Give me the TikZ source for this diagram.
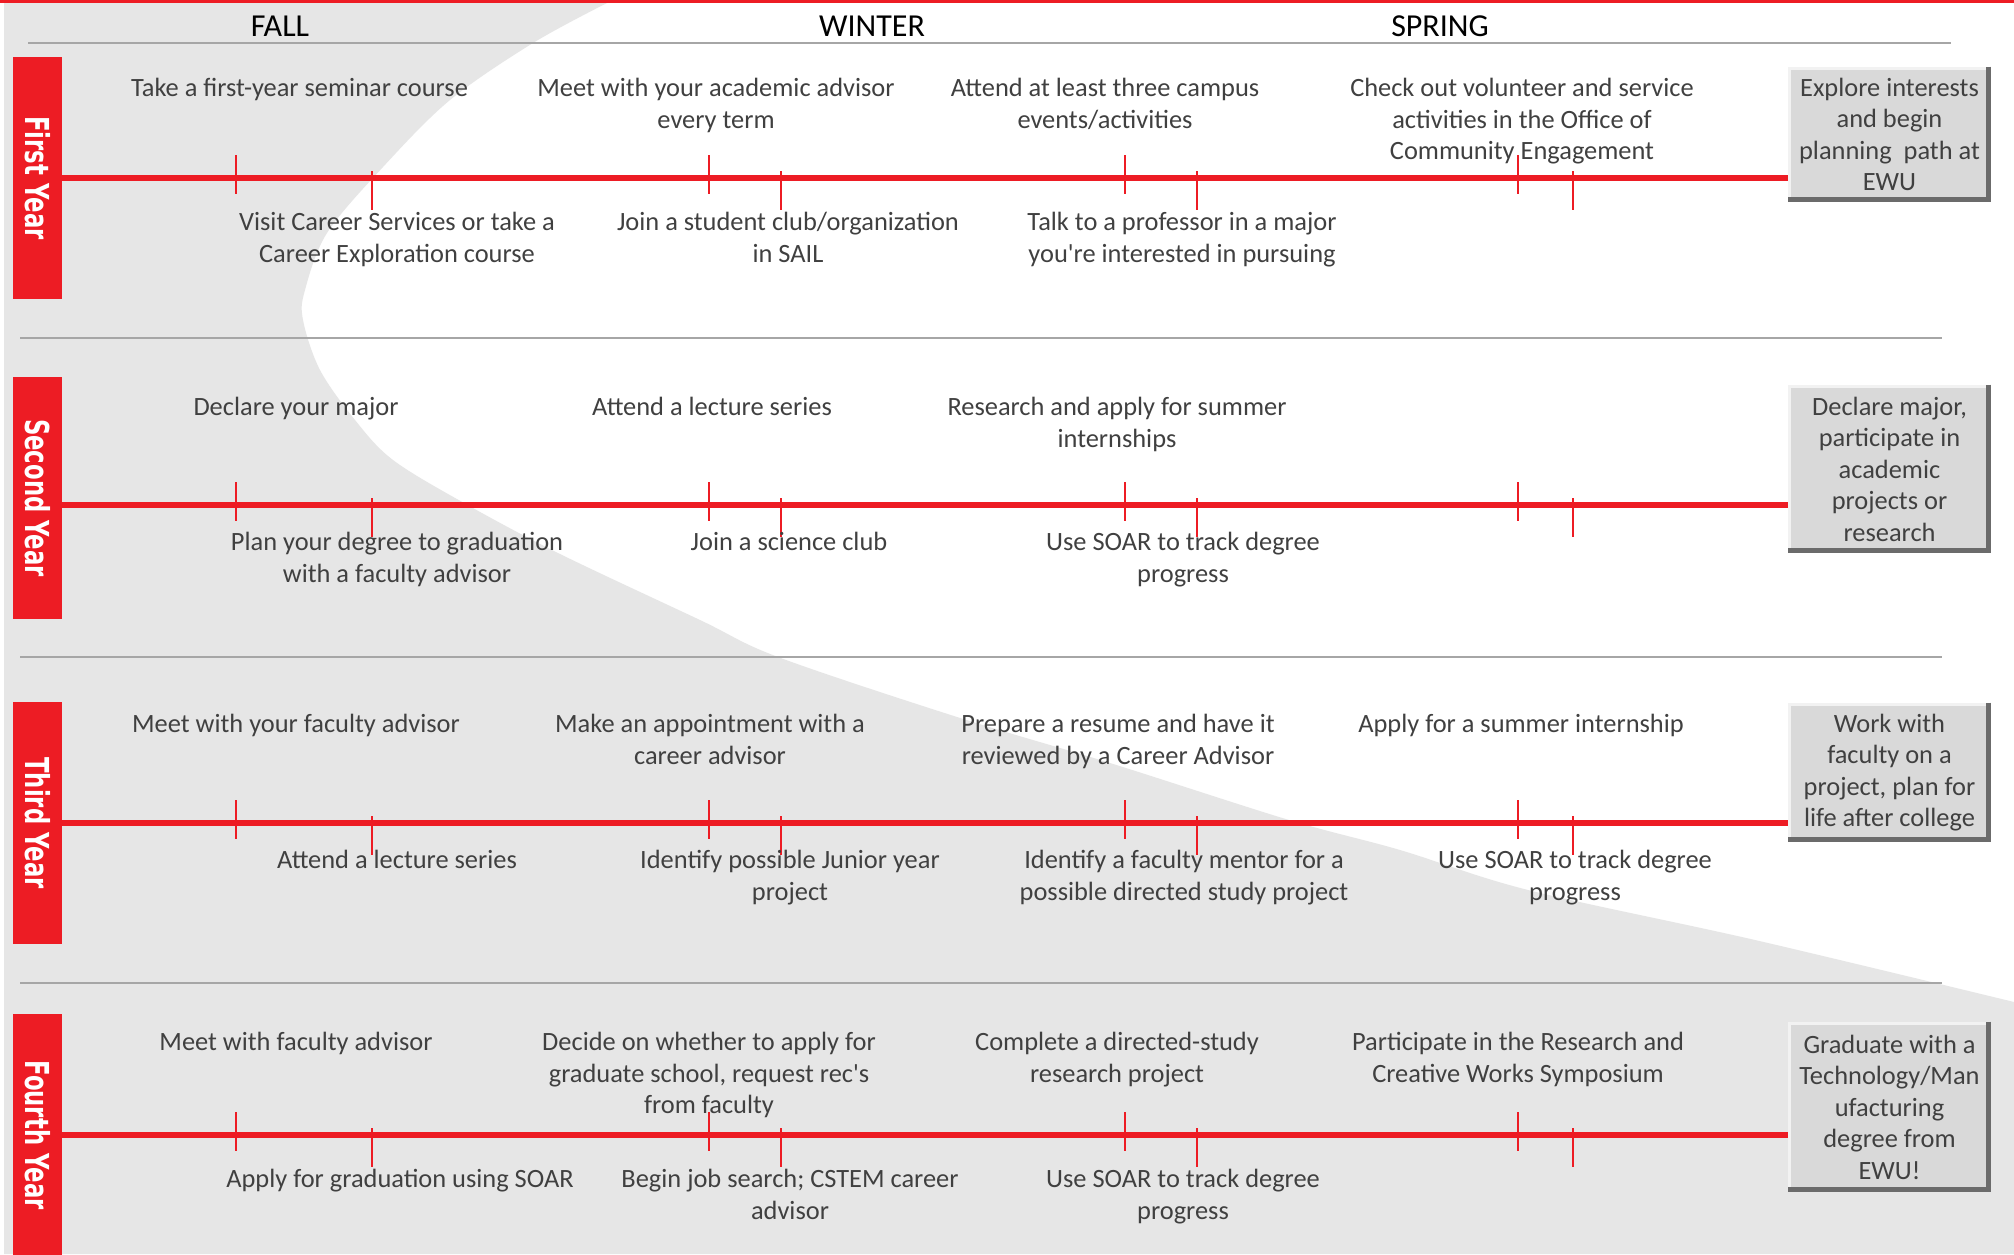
\documentclass[tikz,border=0pt]{standalone}
\usepackage{fontspec}
\usepackage{graphicx}
\setmainfont{Carlito}
\newfontfamily\yearfont{DejaVu Sans}
\usetikzlibrary{calc}

\definecolor{ewured}{HTML}{ED1C24}
\definecolor{bandgray}{HTML}{E6E6E6}
\definecolor{textgray}{HTML}{404040}
\definecolor{rulegray}{HTML}{A6A6A6}
\definecolor{boxgray}{HTML}{D9D9D9}
\definecolor{boxdark}{HTML}{6B6B6B}
\definecolor{boxlight}{HTML}{F2F2F2}

\newcommand\taskfont{\fontsize{13.2}{15.75}\selectfont}
\newcommand\seasonfont{\fontsize{16}{19.2}\selectfont}
\newcommand\yeartext[1]{\rotatebox{-90}{\scalebox{0.69}[1]{\yearfont\bfseries\fontsize{16.5}{18}\selectfont #1}}}

\tikzset{
	season/.style={anchor=base, inner sep=0pt, font=\seasonfont},
	task/.style={anchor=north, yshift=11pt, inner sep=0pt, align=center, text=textgray, font=\taskfont, execute at begin node=\strut},
	tasks/.style={task, yshift=-2pt},
	yearbox/.style={fill=ewured, text=white, inner sep=0pt, minimum width=24.5pt, minimum height=121pt},
	goal/.style={fill=boxgray, text=textgray, inner sep=0pt, align=center, minimum width=101.5pt, font=\taskfont},
	timeline/.style={line width=2.7pt, color=ewured},
	tickmark/.style={line width=1.4pt, color=ewured},
	rule/.style={line width=0.6pt, color=rulegray}
}

\begin{document}
\begin{tikzpicture}[x=0.5pt, y=-0.5pt]
		%%%%% START %%%%%
		\useasboundingbox[fill=white] (0,0) rectangle (2014,1254);
		
		% gray band behind the years
		\fill[bandgray] (4,3) -- plot[smooth, tension=0.55] coordinates {(607,3) (533,43) (450,100) (383,167) (327,233) (305,290) (303,320) (320,370) (355,420) (393,460) (464,503) (558,553) (700,620) (778,657) (957,717) (1110,763) (1289,820) (1400,850) (1528,890) (1755,940) (2014,1002)} -- (2014,1254) -- (4,1254) -- cycle;
		\fill[ewured] (0,0) rectangle (2014,3);
		
		\node[season] (fall) at (280,36) {FALL};
		\node[season] (winter) at (872,36) {WINTER};
		\node[season] (spring) at (1440,36) {SPRING};
		\draw[rule] (28,43) -- (1951,43);
		\draw[rule] (20,338) -- (1942,338);
		\draw[rule] (20,657) -- (1942,657);
		\draw[rule] (20,983) -- (1942,983);
		
		\node[yearbox] (y1) at (37.5,178) {\yeartext{First Year}};
		\node[yearbox] (y2) at (37.5,498) {\yeartext{Second Year}};
		\node[yearbox] (y3) at (37.5,823) {\yeartext{Third Year}};
		\node[yearbox] (y4) at (37.5,1135) {\yeartext{Fourth Year}};
		
		\node[goal, minimum height=67.5pt] (o1) at (1889.5,134.5) {Explore interests\\and begin\\planning~ path at\\EWU};
		\node[goal, minimum height=84pt] (o2) at (1889.5,469) {Declare major,\\participate in\\academic\\projects or\\research};
		\node[goal, minimum height=69.5pt] (o3) at (1889.5,772.5) {Work with\\faculty on a\\project, plan for\\life after college};
		\node[goal, minimum height=85pt] (o4) at (1889.5,1107) {Graduate with a\\Technology/Man\\ufacturing\\degree from\\EWU!};
		\foreach \g in {o1,o2,o3,o4} {
			\draw[boxlight, line width=1.6pt] ([xshift=0.8pt]\g.south west) -- ([xshift=0.8pt, yshift=-0.8pt]\g.north west) -- ([yshift=-0.8pt]\g.north east);
			\draw[boxdark, line width=2.5pt] ([xshift=-1.25pt]\g.north east) -- ([xshift=-1.25pt, yshift=1.25pt]\g.south east) -- ([yshift=1.25pt]\g.south west);
		}
		
		\draw[timeline] (y1.east) -- (y1 -| o1.west);
		\draw[timeline] ([yshift=-3.5pt]y2.east) -- ([yshift=-3.5pt]y2.east -| o2.west);
		\draw[timeline] (y3.east) -- (y3 -| o3.west);
		\draw[timeline] (y4.east) -- (y4 -| o4.west);
		\foreach \ly in {178,505,823,1135} {
			\foreach \tx in {236,709,1125,1518}
				\draw[tickmark] (\tx,\ly-23) -- (\tx,\ly+16);
			\foreach \tx in {372,781,1197,1573}
				\draw[tickmark] (\tx,\ly-7) -- (\tx,\ly+32);
		}
		
		% first year
		\node[task] (t1a) at (299.5,96) {Take a first-year seminar course};
		\node[tasks] (t1b) at (716,96) {Meet with your academic advisor\\every term};
		\node[tasks] (t1c) at (1105,96) {Attend at least three campus\\events/activities};
		\node[tasks] (t1d) at (1522,96) {Check out volunteer and service\\activities in the Office of\\Community Engagement};
		\node[tasks] (b1a) at (397,230) {Visit Career Services or take a\\Career Exploration course};
		\node[tasks] (b1b) at (788,230) {Join a student club/organization\\in SAIL};
		\node[tasks] (b1c) at (1182,230) {Talk to a professor in a major\\you\textquotesingle re interested in pursuing};
		
		% second year
		\node[task] (t2a) at (296,415) {Declare your major};
		\node[task] (t2b) at (712,415) {Attend a lecture series};
		\node[tasks] (t2c) at (1117,415) {Research and apply for summer\\internships};
		\node[tasks] (b2a) at (397,550) {Plan your degree to graduation\\with a faculty advisor};
		\node[task] (b2b) at (789,550) {Join a science club};
		\node[tasks] (b2c) at (1183,550) {Use SOAR to track degree\\progress};
		
		% third year
		\node[task] (t3a) at (296,732) {Meet with your faculty advisor};
		\node[tasks] (t3b) at (710,732) {Make an appointment with a\\career advisor};
		\node[tasks] (t3c) at (1118,732) {Prepare a resume and have it\\reviewed by a Career Advisor};
		\node[task] (t3d) at (1521,732) {Apply for a summer internship};
		\node[task] (b3a) at (397,868) {Attend a lecture series};
		\node[tasks] (b3b) at (790,868) {Identify possible Junior year\\project};
		\node[tasks] (b3c) at (1184,868) {Identify a faculty mentor for a\\possible directed study project};
		\node[tasks] (b3d) at (1575,868) {Use SOAR to track degree\\progress};
		
		% fourth year
		\node[task] (t4a) at (296,1050) {Meet with faculty advisor};
		\node[tasks] (t4b) at (709,1050) {Decide on whether to apply for\\graduate school, request rec\textquotesingle s\\from faculty};
		\node[tasks] (t4c) at (1117,1050) {Complete a directed-study\\research project};
		\node[tasks] (t4d) at (1518,1050) {Participate in the Research and\\Creative Works Symposium};
		\node[task] (b4a) at (400,1187) {Apply for graduation using SOAR};
		\node[tasks] (b4b) at (790,1187) {Begin job search; CSTEM career\\advisor};
		\node[tasks] (b4c) at (1183,1187) {Use SOAR to track degree\\progress};
		
		%%%%% END %%%%%
	\end{tikzpicture}
\end{document}
